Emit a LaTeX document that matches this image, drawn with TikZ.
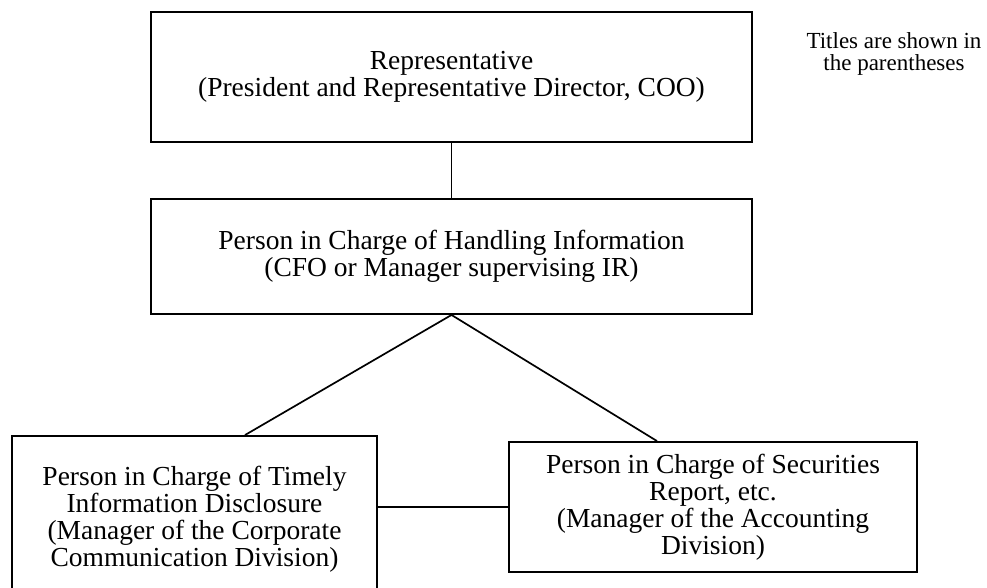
\documentclass[tikz,border=0pt]{standalone}
\usepackage{fontspec}
\setmainfont{Liberation Serif}
\usetikzlibrary{calc}
\tikzset{
  x=1pt, y=-1pt,
  orgbox/.style={draw=black, line width=1.9pt, rectangle, align=center, inner sep=0pt,
    font=\fontsize{27.5}{27}\selectfont},
  link/.style={draw=black, line width=1.7pt},
  note/.style={align=center, inner sep=0pt, font=\fontsize{23}{22}\selectfont}
}
\begin{document}
\begin{tikzpicture}
\useasboundingbox (0,0) rectangle (987,588);
% boxes
\node[orgbox, minimum width=601pt, minimum height=130pt] (rep) at (451.5,77)
  {Representative\\(President and Representative Director, COO)};
\node[orgbox, minimum width=601pt, minimum height=115pt] (info) at (451.5,256.5)
  {Person in Charge of Handling Information\\(CFO or Manager supervising IR)};
\node[orgbox, minimum width=365pt, minimum height=167pt] (timely) at (194.5,519.5)
  {Person in Charge of Timely\\Information Disclosure\\(Manager of the Corporate\\Communication Division)};
\node[orgbox, minimum width=408pt, minimum height=130pt] (sec) at (713,507)
  {Person in Charge of Securities\\Report, etc.\\(Manager of the Accounting\\Division)};
\node[note] (legend) at (894,53.5) {Titles are shown in\\the parentheses};
% connectors
\draw[link] (rep.south) -- (info.north);
\draw[link] ([xshift=50.5pt]timely.north) -- (info.south) -- ([xshift=-56pt]sec.north);
\draw[link] (timely.east |- sec.west) -- (sec.west);
\end{tikzpicture}
\end{document}
